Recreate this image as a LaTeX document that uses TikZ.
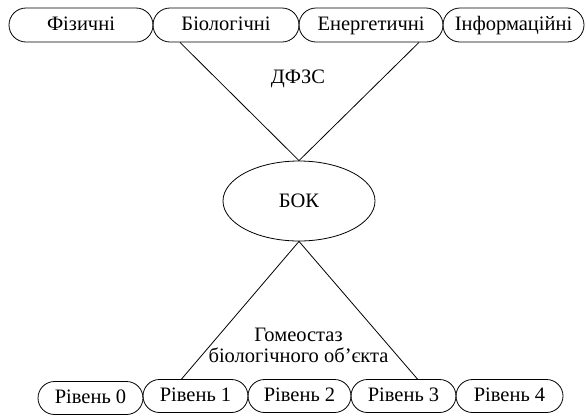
\documentclass[tikz,border=0pt]{standalone}
\usepackage{fontspec}
\setmainfont{Liberation Serif}
\usetikzlibrary{shapes.misc,shapes.geometric}

\tikzset{
    factor/.style={draw, rounded rectangle, line width=0.8pt, minimum height=34pt, inner sep=0pt, text height=14pt, text depth=4pt},
    level/.style={draw, rounded rectangle, line width=0.8pt, minimum height=33pt, minimum width=105pt, inner sep=0pt, text height=14pt, text depth=4pt},
    link/.style={line width=0.8pt}
}

\begin{document}
\begin{tikzpicture}[x=1pt, y=-1pt, font=\rmfamily\fontsize{20.5}{21}\selectfont]
    \useasboundingbox (0,0) rectangle (586,416);

    % Factors
    \node[factor, minimum width=144pt] (fiz) at (81,25) {Фізичні};
    \node[factor, minimum width=146pt] (bio) at (226,25) {Біологічні};
    \node[factor, minimum width=144pt] (energ) at (371,25) {Енергетичні};
    \node[factor, minimum width=141pt] (inform) at (513.5,25) {Інформаційні};

    % Central object
    \node[draw, ellipse, line width=0.8pt, minimum width=152pt, minimum height=80pt, inner sep=0pt] (bok) at (299,201) {БОК};

    % Levels
    \node[level] (riv0) at (90.5,398) {Рівень 0};
    \node[level] (riv1) at (195.5,396) {Рівень 1};
    \node[level, minimum width=103pt] (riv2) at (299.5,396) {Рівень 2};
    \node[level] (riv3) at (403.5,396) {Рівень 3};
    \node[level, minimum width=107pt] (riv4) at (509.5,396) {Рівень 4};

    % Upper triangle
    \draw[link] ([xshift=-46pt]bio.south) -- (bok.north);
    \draw[link] ([xshift=48pt]energ.south) -- (bok.north);
    \node (dfzs) at (298,79) {ДФЗС};

    % Lower triangle
    \draw[link] (bok.south) -- ([xshift=-14pt]riv1.north);
    \draw[link] (bok.south) -- ([xshift=14pt]riv3.north);
    \node[align=center] (homeo) at (298.5,345) {Гомеостаз\\біологічного об’єкта};
\end{tikzpicture}
\end{document}
